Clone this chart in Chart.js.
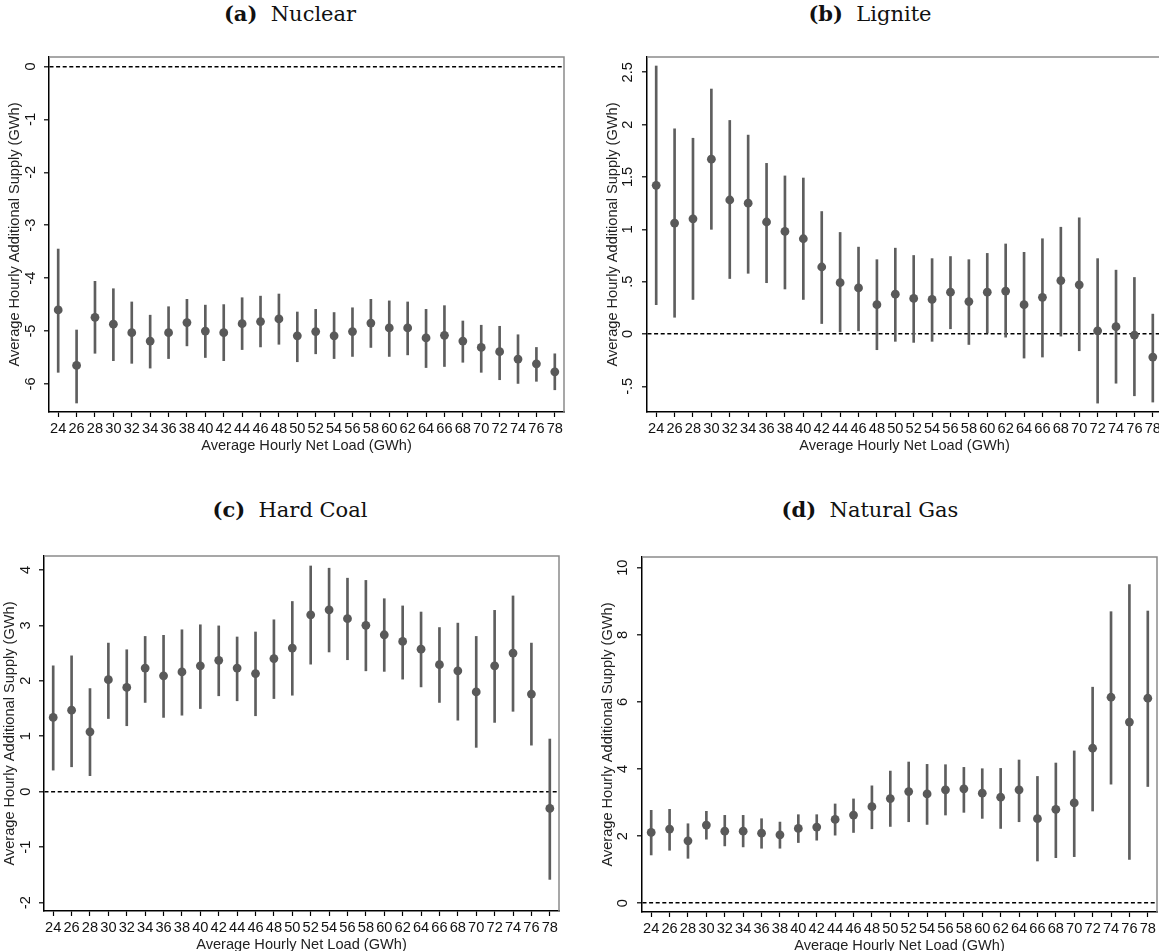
<!DOCTYPE html>
<html>
<head>
<meta charset="utf-8">
<script src="https://cdn.jsdelivr.net/npm/chart.js@4.4.1/dist/chart.umd.min.js"></script>
<style>
  html, body { margin: 0; padding: 0; background: #fff; overflow: hidden; }
  body { width: 1159px; height: 951px; position: relative; }
  canvas { position: absolute; }
  .ttl { position: absolute; width: 580px; text-align: center; font-family: "DejaVu Serif", serif; font-size: 21px; color: #111; white-space: pre; }
  .ttl b { font-weight: bold; }
</style>
</head>
<body>
<div class="ttl" style="left:0; top:1px;"><b>(a)</b>  Nuclear</div>
<div class="ttl" style="left:580px; top:1px;"><b>(b)</b>  Lignite</div>
<div class="ttl" style="left:0; top:497px;"><b>(c)</b>  Hard Coal</div>
<div class="ttl" style="left:580px; top:497px;"><b>(d)</b>  Natural Gas</div>

<canvas id="nuclearChart" width="580" height="420" style="left:0; top:40px;"></canvas>
<canvas id="ligniteChart" width="580" height="420" style="left:598px; top:40px;"></canvas>
<canvas id="coalChart" width="580" height="420" style="left:-5px; top:539px;"></canvas>
<canvas id="gasChart" width="580" height="420" style="left:593px; top:540px;"></canvas>

<script>
// net load bins (GWh)
const loads = [24, 26, 28, 30, 32, 34, 36, 38, 40, 42, 44, 46, 48, 50,
               52, 54, 56, 58, 60, 62, 64, 66, 68, 70, 72, 74, 76, 78];

// (a) Nuclear
const nuclearEst = [-4.60, -5.65, -4.74, -4.87, -5.03, -5.19, -5.03, -4.84, -5.00, -5.03, -4.86, -4.82, -4.77, -5.09,
                    -5.01, -5.09, -5.01, -4.85, -4.94, -4.94, -5.13, -5.08, -5.19, -5.31, -5.39, -5.53, -5.62, -5.77];
const nuclearHi = [-3.45, -4.98, -4.06, -4.20, -4.45, -4.70, -4.54, -4.40, -4.51, -4.50, -4.37, -4.34, -4.30, -4.64,
                   -4.59, -4.65, -4.56, -4.40, -4.43, -4.45, -4.59, -4.52, -4.81, -4.89, -4.91, -5.07, -5.31, -5.43];
const nuclearLo = [-5.78, -6.36, -5.42, -5.56, -5.61, -5.70, -5.52, -5.28, -5.50, -5.56, -5.35, -5.30, -5.25, -5.58,
                   -5.43, -5.52, -5.48, -5.31, -5.48, -5.45, -5.69, -5.67, -5.59, -5.78, -5.92, -5.99, -5.95, -6.11];
const nuclearTicks = [0, -1, -2, -3, -4, -5, -6];

// (b) Lignite
const ligniteEst = [1.42, 1.06, 1.10, 1.67, 1.28, 1.25, 1.07, 0.98, 0.91, 0.64, 0.49, 0.44, 0.28, 0.38,
                    0.34, 0.33, 0.40, 0.31, 0.40, 0.41, 0.28, 0.35, 0.51, 0.47, 0.03, 0.07, -0.01, -0.22];
const ligniteHi = [2.56, 1.96, 1.87, 2.34, 2.04, 1.90, 1.63, 1.51, 1.49, 1.17, 0.97, 0.83, 0.71, 0.82,
                   0.75, 0.72, 0.74, 0.71, 0.77, 0.86, 0.78, 0.91, 1.02, 1.11, 0.72, 0.61, 0.54, 0.19];
const ligniteLo = [0.28, 0.16, 0.33, 1.00, 0.53, 0.58, 0.49, 0.43, 0.33, 0.10, 0.02, 0.03, -0.15, -0.07,
                   -0.08, -0.07, 0.05, -0.10, 0.01, -0.03, -0.23, -0.22, -0.02, -0.16, -0.66, -0.47, -0.59, -0.65];
const ligniteTicks = [2.5, 2, 1.5, 1, 0.5, 0, -0.5];

// (c) Hard coal
const coalEst = [1.34, 1.47, 1.08, 2.02, 1.88, 2.23, 2.09, 2.16, 2.27, 2.37, 2.23, 2.13, 2.40, 2.59,
                 3.19, 3.28, 3.12, 3.00, 2.83, 2.71, 2.57, 2.29, 2.18, 1.80, 2.27, 2.50, 1.76, -0.30];
const coalHi = [2.27, 2.45, 1.86, 2.68, 2.56, 2.80, 2.82, 2.92, 3.01, 2.99, 2.79, 2.88, 3.10, 3.43,
                4.07, 4.03, 3.85, 3.81, 3.48, 3.35, 3.24, 2.96, 3.04, 2.80, 3.27, 3.53, 2.68, 0.95];
const coalLo = [0.39, 0.45, 0.29, 1.32, 1.19, 1.61, 1.34, 1.38, 1.50, 1.73, 1.64, 1.37, 1.68, 1.74,
                2.30, 2.52, 2.38, 2.18, 2.17, 2.03, 1.89, 1.61, 1.29, 0.80, 1.25, 1.45, 0.84, -1.58];
const coalTicks = [4, 3, 2, 1, 0, -1, -2];

// (d) Natural gas
const gasEst = [2.11, 2.21, 1.86, 2.33, 2.15, 2.15, 2.09, 2.04, 2.23, 2.27, 2.50, 2.63, 2.88, 3.12,
                3.33, 3.26, 3.38, 3.41, 3.28, 3.16, 3.38, 2.52, 2.80, 2.99, 4.62, 6.14, 5.40, 6.11];
const gasHi = [2.77, 2.80, 2.37, 2.74, 2.62, 2.62, 2.52, 2.42, 2.64, 2.64, 2.96, 3.11, 3.50, 3.94,
               4.21, 4.14, 4.13, 4.05, 4.01, 4.02, 4.27, 3.78, 4.18, 4.54, 6.44, 8.69, 9.50, 8.71];
const gasLo = [1.44, 1.58, 1.34, 1.91, 1.71, 1.68, 1.64, 1.64, 1.81, 1.88, 2.03, 2.11, 2.22, 2.29,
               2.43, 2.35, 2.63, 2.71, 2.53, 2.23, 2.43, 1.26, 1.36, 1.39, 2.75, 3.55, 1.31, 3.48];
const gasTicks = [10, 8, 6, 4, 2, 0];

const markColor = '#595959';
const axisFont = { family: '"Liberation Sans", Arial, sans-serif', size: 14.6 };

// stata style numbers: .5 instead of 0.5
const stataNum = v => String(v).replace(/^(-?)0\./, '$1.');

// gray top and right frame lines
const framePlugin = {
    id: 'frame',
    afterDraw(chart) {
        const { ctx, chartArea: a } = chart;
        ctx.save();
        ctx.strokeStyle = '#8a8a8a';
        ctx.lineWidth = 1.5;
        ctx.beginPath();
        ctx.moveTo(a.left, a.top);
        ctx.lineTo(a.right, a.top);
        ctx.lineTo(a.right, a.bottom);
        ctx.stroke();
        ctx.restore();
    }
};

function makePanel(id, est, lo, hi, yTicks, yMin, yMax, tickPad) {
    new Chart(document.getElementById(id), {
        type: 'bar',
        data: {
            labels: loads.map(String),
            datasets: [
                {
                    type: 'line',
                    data: est,
                    showLine: false,
                    pointRadius: 4.4,
                    pointBackgroundColor: markColor,
                    pointBorderWidth: 0,
                    order: 0
                },
                {
                    data: lo.map((v, i) => [v, hi[i]]),
                    backgroundColor: '#5e5e5e',
                    barThickness: 2,
                    borderWidth: 0,
                    order: 1
                }
            ]
        },
        options: {
            responsive: false,
            animation: false,
            layout: { padding: { left: 0, right: 16, top: 17, bottom: 0 } },
            plugins: { legend: { display: false }, tooltip: { enabled: false } },
            scales: {
                x: {
                    afterFit: s => { s.height = 48; },
                    grid: { display: true, drawOnChartArea: false, drawTicks: true, offset: false,
                            tickLength: 5, tickColor: '#000', tickWidth: 1.2 },
                    border: { color: '#000', width: 1.5 },
                    ticks: { autoSkip: false, maxRotation: 0, padding: 3, color: '#111', font: axisFont },
                    title: { display: true, text: 'Average Hourly Net Load (GWh)', color: '#222',
                             font: axisFont, padding: { top: 0, bottom: 5 } }
                },
                y: {
                    min: yMin,
                    max: yMax,
                    afterFit: s => { s.width = 49; },
                    afterBuildTicks: s => { s.ticks = yTicks.map(v => ({ value: v })); },
                    grid: {
                        color: c => (c.tick && c.tick.value === 0) ? '#000' : 'rgba(0,0,0,0)',
                        lineWidth: 1.6,
                        drawTicks: true,
                        tickLength: 5,
                        tickColor: '#000',
                        tickWidth: 1.2
                    },
                    border: { color: '#000', width: 1.5, dash: [4, 2.6] },
                    ticks: {
                        minRotation: 90, maxRotation: 90, crossAlign: 'center', padding: tickPad,
                        color: '#111', font: axisFont,
                        callback: v => stataNum(v)
                    },
                    title: { display: true, text: 'Average Hourly Additional Supply (GWh)', color: '#222',
                             font: axisFont, padding: { top: 6, bottom: 0 } }
                }
            }
        },
        plugins: [framePlugin]
    });
}

makePanel('nuclearChart', nuclearEst, nuclearLo, nuclearHi, nuclearTicks, -6.53, 0.18, 7);
makePanel('ligniteChart', ligniteEst, ligniteLo, ligniteHi, ligniteTicks, -0.745, 2.646, 3.5);
makePanel('coalChart', coalEst, coalLo, coalHi, coalTicks, -2.15, 4.25, 7);
makePanel('gasChart', gasEst, gasLo, gasHi, gasTicks, -0.26, 10.32, 5.5);
</script>
</body>
</html>
